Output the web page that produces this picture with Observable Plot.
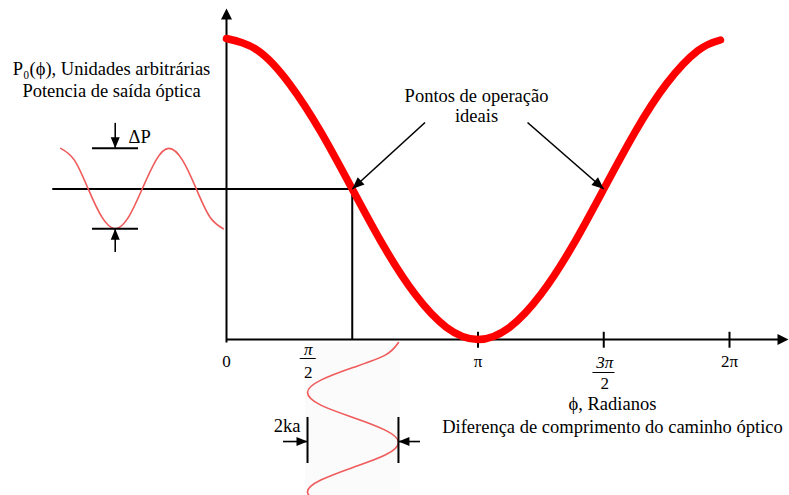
<!DOCTYPE html>
<html>
<head>
<meta charset="utf-8">
<script src="https://cdn.jsdelivr.net/npm/d3@7"></script>
<script src="https://cdn.jsdelivr.net/npm/@observablehq/plot@0.6"></script>
<style>
  html, body { margin: 0; padding: 0; background: #fff; }
  #chart svg { display: block; }
</style>
</head>
<body>
<div id="chart"></div>
<script>
// Interferometer transfer curve: optical output power vs. phase difference (rad)
const phase = [0, 0.3927, 0.7854, 1.1781, 1.5708, 1.9635, 2.3562, 2.7489, 3.1416,
               3.5343, 3.9270, 4.3197, 4.7124, 5.1051, 5.4978, 5.8905, 6.17];
const power = [1.00, 0.96, 0.85, 0.69, 0.50, 0.31, 0.15, 0.04, 0.00,
               0.04, 0.15, 0.31, 0.50, 0.69, 0.85, 0.96, 0.995];

// Output power swing at the operating point (time runs along x, to the left of the axis)
const outTime  = [-2.07, -1.90, -1.73, -1.56, -1.39, -1.22, -1.05, -0.88, -0.72, -0.55, -0.38, -0.21, -0.04];
const outPower = [0.635, 0.596, 0.502, 0.408, 0.368, 0.408, 0.502, 0.596, 0.635, 0.596, 0.502, 0.408, 0.368];

// Phase modulation applied at the operating point (time runs downward, below the axis)
const inTime  = [-0.010, -0.052, -0.093, -0.135, -0.176, -0.218, -0.259, -0.301, -0.342, -0.384, -0.425, -0.467, -0.508, -0.550];
const inPhase = [2.148, 1.982, 1.580, 1.178, 1.012, 1.178, 1.580, 1.982, 2.148, 1.982, 1.580, 1.178, 1.012, 1.178];

// Ideal (quadrature) operating points
const opPhase = [1.5708, 4.7124];
const opPower = 0.5;

// Phase axis ticks
const tickValues = [0, 1.5708, 3.1416, 4.7124, 6.2832];
const tickNumer  = ["0", "π", "π", "3π", "2π"];
const tickDenom  = ["", "2", "", "2", ""];

const curve = phase.map((p, i) => ({phase: p, power: power[i]}));
const outWave = outTime.map((t, i) => ({t, p: outPower[i]}));
const inWave = inTime.map((t, i) => ({t, p: inPhase[i]}));
const ticks = tickValues.map((v, i) => ({v, num: tickNumer[i], den: tickDenom[i]}));

const xOpts = {domain: [0, 2 * Math.PI], range: [226, 729]};
const yOpts = {domain: [0, 1], range: [339, 38]};
const sx = Plot.scale({x: xOpts});
const sy = Plot.scale({y: yOpts});

// filled arrowhead pointing along a screen angle (degrees, clockwise from up); tip at the anchor
function head(angle, len = 11, half = 4.5) {
  const a = angle * Math.PI / 180;
  const ux = Math.sin(a), uy = -Math.cos(a);
  const px = -uy, py = ux;
  return {draw(ctx) {
    ctx.moveTo(0, 0);
    ctx.lineTo(-ux * len + px * half, -uy * len + py * half);
    ctx.lineTo(-ux * len - px * half, -uy * len - py * half);
    ctx.closePath();
  }};
}
function screenAngle(x1, y1, x2, y2) {
  const dx = sx.apply(x2) - sx.apply(x1), dy = sy.apply(y2) - sy.apply(y1);
  return Math.atan2(dx, -dy) * 180 / Math.PI;
}

// pointer arrows from the caption to the operating points
const pointers = [
  {x1: 2.48, y1: 0.721, x2: opPhase[0], y2: opPower},
  {x1: 3.76, y1: 0.721, x2: opPhase[1], y2: opPower}
];

const font = "Liberation Serif, Times New Roman, serif";
const ink = "#000";
const fs = 18.5;   // annotation text
const tfs = 17;    // tick labels

const marks = [
  // faint backing behind the modulation trace
  Plot.rect([0], {x1: 0.987, x2: 2.174, y1: -0.012, y2: -0.56, fill: "#fbfbfb"}),

  // axes
  Plot.ruleX([0], {y1: -0.012, y2: 1.07, stroke: ink, strokeWidth: 2}),
  Plot.ruleY([0], {x1: 0, x2: 6.93, stroke: ink, strokeWidth: 2}),
  Plot.dot([0], {x: 0, y: 1.1, symbol: head(0, 11, 5.5), fill: ink, stroke: "none"}),
  Plot.dot([0], {x: 7.02, y: 0, symbol: head(90, 11, 5.5), fill: ink, stroke: "none"}),

  // tick marks at π, 3π/2, 2π
  Plot.ruleX(ticks.slice(2), {x: "v", y1: -0.029, y2: 0.024, stroke: ink, strokeWidth: 2}),

  // guides to the operating point
  Plot.ruleY([opPower], {x1: -2.17, x2: opPhase[0], stroke: ink, strokeWidth: 2}),
  Plot.ruleX([opPhase[0]], {y1: 0, y2: opPower, stroke: ink, strokeWidth: 2}),

  // modulation traces
  Plot.line(outWave, {x: "t", y: "p", curve: "natural", stroke: "#f05a5a", strokeWidth: 1.6}),
  Plot.line(inWave, {x: "p", y: "t", curve: "natural", stroke: "#f05a5a", strokeWidth: 1.6}),

  // transfer curve
  Plot.line(curve, {x: "phase", y: "power", curve: "natural", stroke: "#ff0000", strokeWidth: 7.5}),

  // ΔP markers
  Plot.ruleY([outPower[0], outPower[4]], {x1: -1.674, x2: -1.099, stroke: ink, strokeWidth: 2}),
  Plot.ruleX([outTime[4]], {y1: 0.718, y2: outPower[0], stroke: ink, strokeWidth: 1.6}),
  Plot.ruleX([outTime[4]], {y1: outPower[4], y2: 0.289, stroke: ink, strokeWidth: 1.6}),
  Plot.dot([0], {x: outTime[4], y: outPower[0], symbol: head(180, 11, 4.5), fill: ink, stroke: "none"}),
  Plot.dot([0], {x: outTime[4], y: outPower[4], symbol: head(0, 11, 4.5), fill: ink, stroke: "none"}),
  Plot.text(["ΔP"], {x: -1.224, y: 0.671, textAnchor: "start", fontSize: fs}),

  // 2ka markers
  Plot.ruleX([inPhase[4], inPhase[0]], {y1: -0.259, y2: -0.412, stroke: ink, strokeWidth: 2}),
  Plot.ruleY([-0.339], {x1: 0.712, x2: inPhase[4], stroke: ink, strokeWidth: 1.6}),
  Plot.ruleY([-0.339], {x1: inPhase[0], x2: 2.423, stroke: ink, strokeWidth: 1.6}),
  Plot.dot([0], {x: inPhase[4], y: -0.339, symbol: head(90, 11, 4.5), fill: ink, stroke: "none"}),
  Plot.dot([0], {x: inPhase[0], y: -0.339, symbol: head(270, 11, 4.5), fill: ink, stroke: "none"}),
  Plot.text(["2ka"], {x: 0.924, y: -0.286, textAnchor: "end", fontSize: fs}),

  // pointers to the ideal operating points
  Plot.link(pointers, {x1: "x1", y1: "y1", x2: "x2", y2: "y2", stroke: ink, strokeWidth: 1.6}),
  ...pointers.map(d => Plot.dot([d], {x: "x2", y: "y2",
    symbol: head(screenAngle(d.x1, d.y1, d.x2, d.y2), 12, 5), fill: ink, stroke: "none"})),
  Plot.text(["Pontos de operação\nideais"], {x: 3.123, y: 0.777, fontSize: fs, lineHeight: 1.1}),

  // axis titles
  Plot.text(["P₀(ϕ), Unidades arbitrárias\nPotencia de saída óptica"],
    {x: -1.436, y: 0.867, fontSize: fs, lineHeight: 1.19}),
  Plot.text(["ϕ, Radianos\nDiferença de comprimento do caminho óptico"],
    {x: 4.821, y: -0.248, fontSize: fs, lineHeight: 1.22}),

  // tick labels: whole multiples
  Plot.text(ticks.filter(d => !d.den), {x: "v", y: 0, dy: 22, text: "num", fontSize: tfs,
    fontStyle: d => d.num.includes("π") ? "italic" : "normal"}),
  // π/2 (set left of its tick)
  Plot.text(ticks.filter(d => d.num === "π" && d.den), {x: "v", y: 0, dx: -44, dy: 10, text: "num", fontSize: tfs, fontStyle: "italic"}),
  Plot.ruleY([0], {x1: tickValues[1] - 0.65, x2: tickValues[1] - 0.45, dy: 19, stroke: ink, strokeWidth: 1}),
  Plot.text(ticks.filter(d => d.num === "π" && d.den), {x: "v", y: 0, dx: -44, dy: 33, text: "den", fontSize: tfs}),
  // 3π/2
  Plot.text(ticks.filter(d => d.num === "3π"), {x: "v", y: 0, dx: 1, dy: 23, text: "num", fontSize: tfs, fontStyle: "italic"}),
  Plot.ruleY([0], {x1: tickValues[3] - 0.135, x2: tickValues[3] + 0.14, dy: 33, stroke: ink, strokeWidth: 1}),
  Plot.text(ticks.filter(d => d.num === "3π"), {x: "v", y: 0, dx: 1, dy: 44, text: "den", fontSize: tfs})
];

const chart = Plot.plot({
  width: 789,
  height: 495,
  margin: 0,
  x: {...xOpts, axis: null},
  y: {...yOpts, axis: null},
  style: {fontFamily: font, fontSize: fs + "px", background: "#fff", color: ink},
  marks
});
document.getElementById("chart").append(chart);
</script>
</body>
</html>
